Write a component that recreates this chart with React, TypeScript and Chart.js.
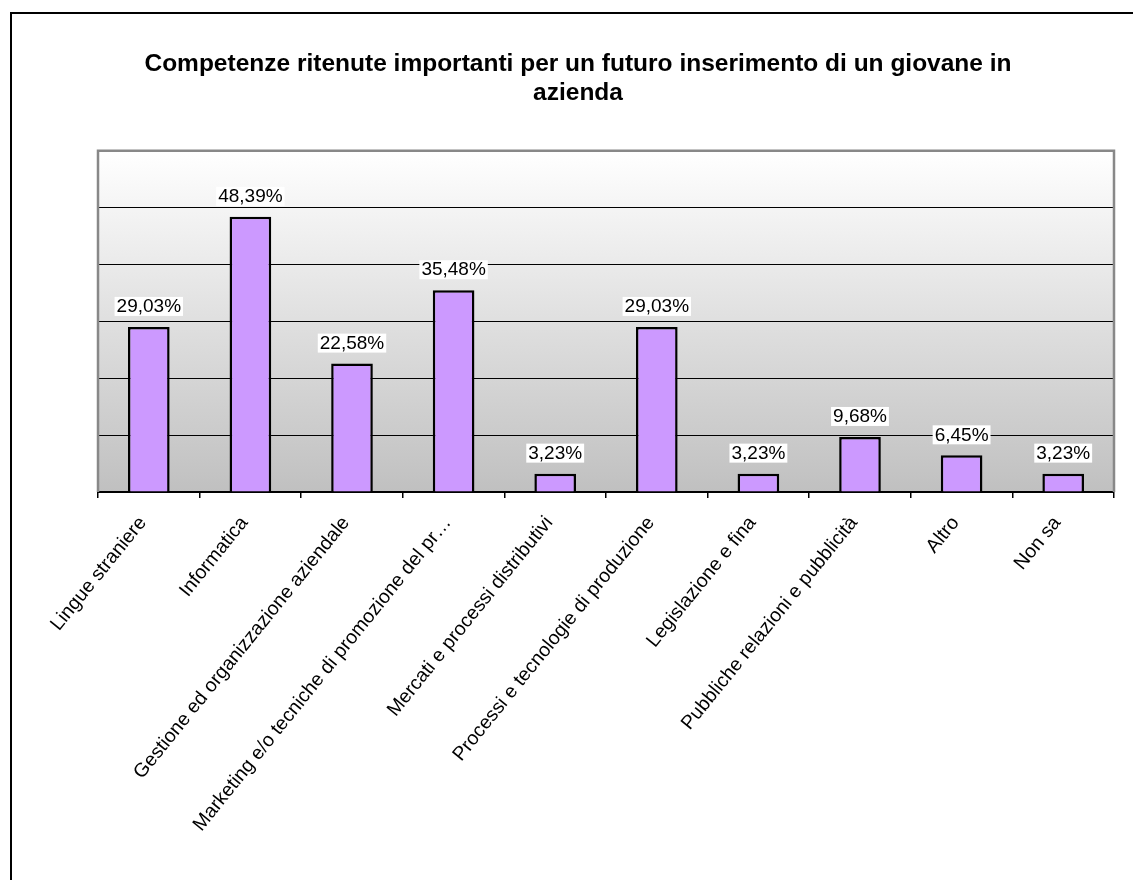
import React, { useEffect, useRef } from "react";
import { Chart, registerables } from "chart.js";

Chart.register(...registerables);

const titleLines = [
  "Competenze ritenute importanti per un futuro inserimento di un giovane in",
  "azienda",
];

const categories = [
  "Lingue straniere",
  "Informatica",
  "Gestione ed organizzazione aziendale",
  "Marketing e/o tecniche di promozione del pr…",
  "Mercati e processi distributivi",
  "Processi e tecnologie di produzione",
  "Legislazione e fina",
  "Pubbliche relazioni e pubblicità",
  "Altro",
  "Non sa",
];

const values = [29.03, 48.39, 22.58, 35.48, 3.23, 29.03, 3.23, 9.68, 6.45, 3.23];

const yMax = 60;
const yStep = 10;

const FONT = "'Liberation Sans', Arial, sans-serif";

const fmt = (v: number) => v.toFixed(2).replace(".", ",") + "%";

const bgPlugin = {
  id: "bgPlugin",
  beforeDraw(chart: any) {
    const { ctx, chartArea } = chart;
    const g = ctx.createLinearGradient(0, chartArea.top, 0, chartArea.bottom);
    g.addColorStop(0, "#ffffff");
    g.addColorStop(1, "#c0c0c0");
    ctx.save();
    ctx.fillStyle = g;
    ctx.fillRect(chartArea.left, chartArea.top, chartArea.right - chartArea.left, chartArea.bottom - chartArea.top);
    ctx.restore();
  },
  beforeDatasetsDraw(chart: any) {
    const { ctx, chartArea } = chart;
    ctx.save();
    ctx.strokeStyle = "#888888";
    ctx.lineWidth = 2.5;
    ctx.beginPath();
    ctx.moveTo(chartArea.left, chartArea.bottom);
    ctx.lineTo(chartArea.left, chartArea.top);
    ctx.lineTo(chartArea.right, chartArea.top);
    ctx.lineTo(chartArea.right, chartArea.bottom);
    ctx.stroke();
    ctx.restore();
  },
};

const labelPlugin = {
  id: "labelPlugin",
  afterDatasetsDraw(chart: any) {
    const { ctx } = chart;
    const meta = chart.getDatasetMeta(0);
    ctx.save();
    ctx.font = `19px ${FONT}`;
    ctx.textAlign = "center";
    ctx.textBaseline = "middle";
    meta.data.forEach((bar: any, i: number) => {
      const text = fmt(values[i]);
      const w = ctx.measureText(text).width + 4;
      const cy = bar.y - 21;
      ctx.fillStyle = "#ffffff";
      ctx.fillRect(bar.x - w / 2, cy - 9, w, 19);
      ctx.fillStyle = "#000000";
      ctx.fillText(text, bar.x, cy + 1);
    });
    ctx.restore();
  },
};

export default function App() {
  const ref = useRef<HTMLCanvasElement>(null);

  useEffect(() => {
    if (!ref.current) return;
    const chart = new Chart(ref.current, {
      type: "bar",
      data: {
        labels: categories,
        datasets: [
          {
            data: values,
            backgroundColor: "#CC99FF",
            borderColor: "#000000",
            borderWidth: 2.5,
            barPercentage: 0.41,
            categoryPercentage: 1,
          },
        ],
      },
      options: {
        animation: false,
        responsive: false,
        maintainAspectRatio: false,
        layout: { padding: { top: 0, left: 42, right: 19, bottom: 0 } },
        plugins: {
          legend: { display: false },
          tooltip: { enabled: false },
          title: {
            display: true,
            text: titleLines,
            color: "#000000",
            font: { family: FONT, size: 24.5, weight: "bold", lineHeight: 1.18 },
            padding: { top: 50, bottom: 43 },
          },
        },
        scales: {
          x: {
            grid: {
              display: true,
              drawOnChartArea: false,
              drawTicks: true,
              tickLength: 6,
              color: "#000000",
              lineWidth: 1.5,
              offset: true,
            },
            border: { display: true, color: "#000000", width: 2 },
            ticks: {
              autoSkip: false,
              minRotation: 51,
              maxRotation: 51,
              color: "#000000",
              padding: 14,
              labelOffset: -6,
              font: { family: FONT, size: 19.5 },
            },
            afterFit(scale: any) {
              scale.height = 388;
            },
          },
          y: {
            min: 0,
            max: yMax,
            ticks: { display: false, stepSize: yStep },
            grid: {
              drawTicks: false,
              color: "#000000",
              lineWidth: 1,
            },
            border: { display: false },
            afterFit(scale: any) {
              scale.width = 56;
            },
          },
        },
      },
      plugins: [bgPlugin, labelPlugin],
    });
    return () => chart.destroy();
  }, []);

  return (
    <div
      style={{
        position: "fixed",
        left: 0,
        top: 0,
        width: 1133,
        height: 880,
        overflow: "hidden",
        background: "#ffffff",
      }}
    >
      <div
        style={{
          position: "absolute",
          left: 10,
          top: 12,
          width: 1300,
          height: 1000,
          border: "2px solid #000000",
        }}
      />
      <canvas
        ref={ref}
        width={1133}
        height={880}
        style={{ position: "absolute", left: 0, top: 0, width: 1133, height: 880 }}
      />
    </div>
  );
}
